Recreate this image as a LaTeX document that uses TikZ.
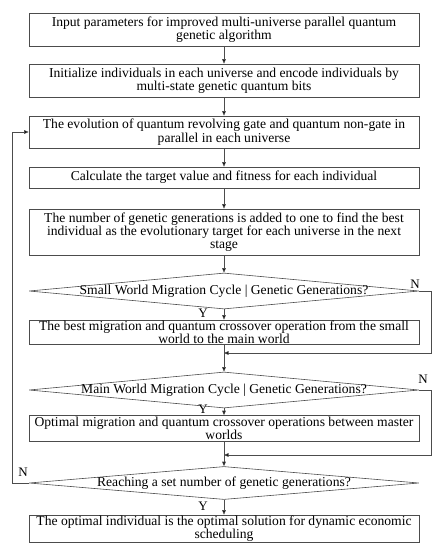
\documentclass[tikz,border=0pt]{standalone}
\usepackage{fontspec}
\setmainfont{Liberation Serif}
\usetikzlibrary{arrows.meta,shapes.geometric}
\tikzset{
  ln/.style={draw=black!70, line width=0.6pt},
  arr/.style={ln, -{Triangle[length=4.5pt,width=3.6pt,fill=black]}},
  box/.style={ln, rectangle, minimum width=390pt, inner sep=0.5pt, align=center,
    font=\fontsize{13.6}{12.3}\selectfont},
  dia/.style={ln, diamond, minimum width=390pt, minimum height=36pt, inner sep=0pt},
  dtext/.style={inner sep=0pt, font=\fontsize{13.6}{12.3}\selectfont},
  lab/.style={inner sep=0pt, font=\fontsize{13}{12}\selectfont},
}
\begin{document}
\begin{tikzpicture}[x=1pt,y=-1pt]
\useasboundingbox (0,0) rectangle (441,550);
\node[box, minimum height=33pt] (b1) at (224,29.5) {Input parameters for improved multi-universe parallel quantum\\genetic algorithm};
\node[box, minimum height=33pt] (b2) at (224,80.5) {Initialize individuals in each universe and encode individuals by\\multi-state genetic quantum bits};
\node[box, minimum height=32pt] (b3) at (224,132) {The evolution of quantum revolving gate and quantum non-gate in\\parallel in each universe};
\node[box, minimum height=21pt] (b4) at (224,177.5) {Calculate the target value and fitness for each individual};
\node[box, minimum height=46pt] (b5) at (224,232) {The number of genetic generations is added to one to find the best\\individual as the evolutionary target for each universe in the next\\stage};
\node[dia] (d1) at (224,291) {};
\node[dtext] (d1t) at (d1) {Small World Migration Cycle | Genetic Generations?};
\node[box, minimum height=24pt] (b6) at (224,332) {The best migration and quantum crossover operation from the small\\world to the main world};
\coordinate (m1) at (224,353);
\node[dia] (d2) at (224,390) {};
\node[dtext] (d2t) at (d2) {Main World Migration Cycle | Genetic Generations?};
\node[box, minimum height=26pt] (b7) at (224,428.5) {Optimal migration and quantum crossover operations between master\\worlds};
\coordinate (m2) at (224,455);
\node[dia, minimum height=33pt] (d3) at (224,483) {};
\node[dtext] (d3t) at (d3) {Reaching a set number of genetic generations?};
\node[box, minimum height=27pt] (b8) at (224,528.5) {The optimal individual is the optimal solution for dynamic economic\\scheduling};
\coordinate (r1) at (431,291);
\coordinate (r2) at (431,390);
\coordinate (l3) at (12,483);
\draw[arr] (b1) -- (b2);
\draw[arr] (b2) -- (b3);
\draw[arr] (b3) -- (b4);
\draw[arr] (b4) -- (b5);
\draw[arr] (b5) -- (d1);
\draw[arr] (d1) -- (b6);
\draw[ln] (d1.east) -- (r1);
\draw[arr] (r1) |- (m1);
\draw[arr] (b6) -- (d2);
\draw[arr] (d2) -- (b7);
\draw[ln] (d2.east) -- (r2);
\draw[arr] (r2) |- (m2);
\draw[arr] (b7) -- (d3);
\draw[arr] (d3) -- (b8);
\draw[ln] (d3.west) -- (l3);
\draw[arr] (l3) |- (b3.west);
\node[lab] (n1) at (415,284) {N};
\node[lab] (y1) at (203,313) {Y};
\node[lab] (n2) at (423,379) {N};
\node[lab] (y2) at (203,409) {Y};
\node[lab] (n3) at (23,472) {N};
\node[lab] (y3) at (203,506) {Y};
\end{tikzpicture}
\end{document}
